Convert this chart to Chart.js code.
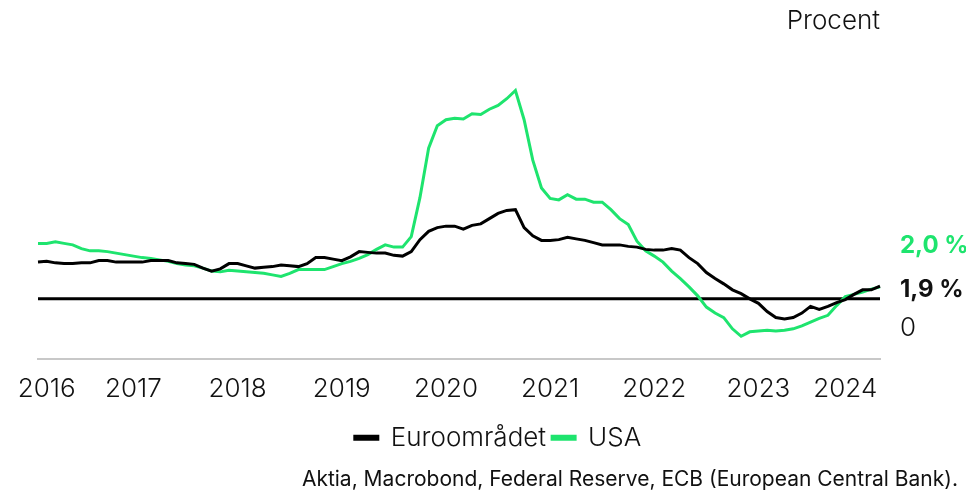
<!DOCTYPE html>
<html>
<head>
<meta charset="utf-8">
<script src="https://cdn.jsdelivr.net/npm/chart.js@4.4.1/dist/chart.umd.min.js"></script>
<style>
    html, body { margin: 0; padding: 0; background: #fff; }
    #wrap { width: 966px; height: 498px; position: relative; }
</style>
</head>
<body>
<div id="wrap"><canvas id="moneyChart"></canvas></div>
<script>
// Monthly, Aug 2016 - Sep 2024 (percent)
const months = [];
for (let i = 0; i < 98; i++) {
    const d = new Date(2016, 7 + i, 1);
    months.push(`${d.getFullYear()}-${String(d.getMonth() + 1).padStart(2, '0')}`);
}

const euroArea = [
    4.9, 5.0, 4.8, 4.7, 4.7, 4.8, 4.8, 5.1, 5.1, 4.9, 4.9, 4.9, 4.9, 5.1, 5.1, 5.1,
    4.8, 4.7, 4.6, 4.1, 3.7, 4.0, 4.7, 4.7, 4.4, 4.1, 4.2, 4.3, 4.5, 4.4, 4.3, 4.7,
    5.5, 5.5, 5.3, 5.1, 5.6, 6.3, 6.2, 6.1, 6.1, 5.8, 5.7, 6.3, 7.9, 9.0, 9.5, 9.7,
    9.7, 9.3, 9.8, 10.0, 10.7, 11.4, 11.8, 11.9, 9.5, 8.4, 7.8, 7.8, 7.9, 8.2, 8.0, 7.8,
    7.5, 7.2, 7.2, 7.2, 7.0, 6.9, 6.6, 6.5, 6.5, 6.7, 6.5, 5.5, 4.7, 3.5, 2.7, 2.0,
    1.2, 0.7, 0.0, -0.6, -1.7, -2.5, -2.7, -2.5, -1.9, -1.0, -1.4, -1.0, -0.5, -0.1, 0.6, 1.2,
    1.2, 1.7
];

const usa = [
    7.4, 7.4, 7.6, 7.4, 7.2, 6.7, 6.4, 6.4, 6.3, 6.1, 5.9, 5.7, 5.5, 5.4, 5.2, 5.0,
    4.7, 4.5, 4.4, 4.1, 3.7, 3.6, 3.8, 3.7, 3.6, 3.5, 3.4, 3.2, 3.0, 3.4, 3.9, 3.9,
    3.9, 3.9, 4.3, 4.7, 5.0, 5.4, 5.9, 6.6, 7.2, 6.9, 6.9, 8.3, 13.5, 20.1, 23.1, 23.9,
    24.1, 24.0, 24.7, 24.6, 25.3, 25.8, 26.7, 27.8, 23.9, 18.5, 14.8, 13.4, 13.2, 13.9, 13.3, 13.3,
    12.9, 12.9, 11.9, 10.7, 9.9, 7.7, 6.4, 5.7, 4.9, 3.7, 2.7, 1.6, 0.4, -1.1, -1.9, -2.5,
    -4.0, -5.0, -4.4, -4.3, -4.2, -4.3, -4.2, -4.0, -3.6, -3.1, -2.6, -2.2, -0.9, 0.3, 0.6, 0.9,
    1.3, 1.6
];

// year labels sit mid-year (or mid of the partial year at the ends)
const tickMonths = ['2016-09', '2017-07', '2018-07', '2019-07', '2020-07', '2021-07', '2022-07', '2023-07', '2024-05'];
const tickLabels = ['2016', '2017', '2018', '2019', '2020', '2021', '2022', '2023', '2024'];

const endLabels = ['2,0 %', '1,9 %'];
const unitLabel = 'Procent';
const sourceText = 'Aktia, Macrobond, Federal Reserve, ECB (European Central Bank).';

const GREEN = '#1ee46e';
const INK = '#111111';
const FONT = 'Inter, "Noto Sans", sans-serif';

// zero line + right side labels
const extras = {
    id: 'extras',
    beforeDatasetsDraw(chart) {
        const { ctx, chartArea, scales } = chart;
        const y0 = scales.y.getPixelForValue(0);
        ctx.save();
        ctx.strokeStyle = '#000';
        ctx.lineWidth = 3;
        ctx.beginPath();
        ctx.moveTo(chartArea.left, y0);
        ctx.lineTo(chartArea.right, y0);
        ctx.stroke();
        ctx.restore();
    },
    afterDraw(chart) {
        const { ctx, chartArea } = chart;
        const x = chartArea.right + 20;
        ctx.save();
        ctx.textBaseline = 'middle';
        ctx.textAlign = 'left';
        ctx.font = `bold 24px ${FONT}`;
        ctx.fillStyle = GREEN;
        ctx.fillText(endLabels[0], x, 246);
        ctx.fillStyle = INK;
        ctx.fillText(endLabels[1], x, 290);
        ctx.font = `300 26px ${FONT}`;
        ctx.fillText('0', x, 328);
        ctx.textAlign = 'right';
        ctx.fillText(unitLabel, chartArea.right, 21);
        ctx.restore();
    }
};

new Chart(document.getElementById('moneyChart'), {
    type: 'line',
    data: {
        labels: months,
        datasets: [{
            label: 'Euroområdet',
            data: euroArea,
            borderColor: '#000',
            backgroundColor: '#000',
            borderWidth: 3,
            pointRadius: 0,
            tension: 0
        }, {
            label: 'USA',
            data: usa,
            borderColor: GREEN,
            backgroundColor: GREEN,
            borderWidth: 3,
            pointRadius: 0,
            tension: 0
        }]
    },
    options: {
        responsive: true,
        maintainAspectRatio: false,
        animation: false,
        layout: { padding: { left: 38, right: 8, top: 59, bottom: 6 } },
        plugins: {
            legend: {
                position: 'bottom',
                labels: {
                    boxWidth: 23,
                    boxHeight: 3,
                    padding: 6,
                    color: INK,
                    font: { family: FONT, size: 26, weight: 300 }
                }
            },
            subtitle: {
                display: true,
                position: 'bottom',
                align: 'end',
                text: sourceText,
                color: INK,
                font: { family: FONT, size: 21, weight: 'normal' },
                padding: { top: 6, bottom: 0 }
            },
            tooltip: { enabled: false }
        },
        scales: {
            x: {
                offset: false,
                grid: { display: false },
                border: { color: '#c8c8c8', width: 2 },
                afterBuildTicks: (scale) => {
                    scale.ticks = tickMonths.map(m => ({ value: months.indexOf(m) }));
                },
                afterFit: (scale) => { scale.height = 60; },
                ticks: {
                    autoSkip: false,
                    maxRotation: 0,
                    padding: 7,
                    color: INK,
                    font: { family: FONT, size: 26, weight: 300 },
                    callback: (val) => tickLabels[tickMonths.indexOf(months[val])]
                }
            },
            y: {
                position: 'right',
                min: -8,
                max: 32,
                grid: { display: false },
                border: { display: false },
                ticks: { display: false },
                afterFit: (scale) => { scale.width = 78; }
            }
        }
    },
    plugins: [extras]
});
</script>
</body>
</html>
